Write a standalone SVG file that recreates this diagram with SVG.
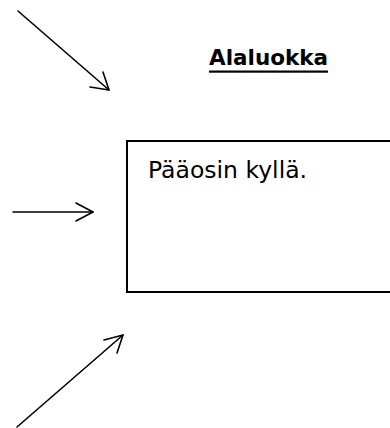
<svg xmlns="http://www.w3.org/2000/svg" width="390" height="428" viewBox="0 0 390 428">
  <style>
    .line { stroke: #000; stroke-width: 1.6; fill: none; stroke-linecap: round; stroke-linejoin: round; }
    .box { stroke: #000; stroke-width: 2; fill: #fff; }
    .title { font-family: "DejaVu Sans", sans-serif; font-weight: bold; font-size: 21.5px; fill: #000; }
    .body { font-family: "DejaVu Sans", sans-serif; font-size: 23.5px; fill: #000; }
  </style>
  <rect width="390" height="428" fill="#fff"/>

  <g id="title">
    <text class="title" x="209" y="65">Alaluokka</text>
    <rect x="209" y="70.5" width="119" height="2.2" fill="#000"/>
  </g>

  <g id="answer-box">
    <rect class="box" x="127" y="141" width="270" height="151"/>
    <text class="body" x="148" y="178">Pääosin kyllä.</text>
  </g>

  <g id="connectors">
    <!-- from upper left -->
    <path class="line" d="M18 11 L109 90"/>
    <path class="line" d="M90 87 L109 90 L103 72"/>
    <!-- from the left -->
    <path class="line" d="M13 212 L93 212"/>
    <path class="line" d="M76 203 L93 212 L76 221"/>
    <!-- from lower left -->
    <path class="line" d="M17 427 L123 335"/>
    <path class="line" d="M104 340 L123 335 L117 353"/>
  </g>
</svg>
